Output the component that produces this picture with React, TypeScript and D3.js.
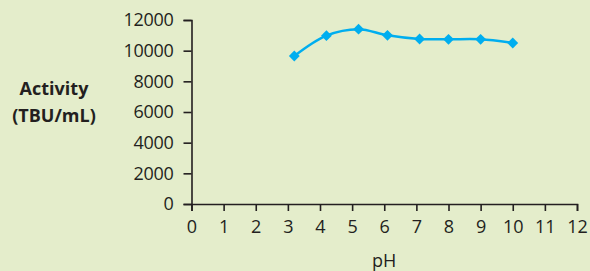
import React, { useEffect, useRef } from "react";
import * as d3 from "d3";

// pH vs activity readings
const phValues = [3.2, 4.2, 5.2, 6.1, 7.1, 8.0, 9.0, 10.0];
const activityValues = [9650, 10980, 11400, 11000, 10760, 10740, 10740, 10500];
const xTicks = [0, 1, 2, 3, 4, 5, 6, 7, 8, 9, 10, 11, 12];
const yTicks = [0, 2000, 4000, 6000, 8000, 10000, 12000];

export default function App() {
  const ref = useRef<SVGSVGElement | null>(null);

  useEffect(() => {
    const width = 590;
    const height = 271;
    const svg = d3.select(ref.current);
    svg.selectAll("*").remove();

    svg
      .append("rect")
      .attr("width", width)
      .attr("height", height)
      .attr("fill", "#e4edcb");

    const x = d3.scaleLinear().domain([0, 12]).range([191.5, 577]);
    const y = d3.scaleLinear().domain([0, 12000]).range([204, 20]);

    const font = "'Open Sans', 'Noto Sans', sans-serif";
    const ink = "#231f20";

    // y axis
    const yAxis = svg
      .append("g")
      .attr("transform", `translate(${x(0)},0)`)
      .call(d3.axisLeft(y).tickValues(yTicks).tickSize(8).tickPadding(10).tickFormat(d3.format("d")));
    yAxis.select(".domain").attr("stroke", ink).attr("stroke-width", 1.6);
    yAxis.selectAll(".tick line").attr("stroke", ink).attr("stroke-width", 1.6);
    yAxis
      .selectAll(".tick text")
      .attr("fill", ink)
      .attr("font-family", font)
      .attr("font-size", 18)
      .attr("letter-spacing", -0.3);

    // x axis
    const xAxis = svg
      .append("g")
      .attr("transform", `translate(0,${y(0)})`)
      .call(d3.axisBottom(x).tickValues(xTicks).tickSize(7).tickPadding(9.5).tickFormat(d3.format("d")));
    xAxis.select(".domain").attr("stroke", ink).attr("stroke-width", 1.6);
    xAxis.selectAll(".tick line").attr("stroke", ink).attr("stroke-width", 1.6);
    xAxis
      .selectAll(".tick text")
      .attr("fill", ink)
      .attr("font-family", font)
      .attr("font-size", 18);

    // axis titles
    const yTitle = svg
      .append("text")
      .attr("text-anchor", "middle")
      .attr("font-family", font)
      .attr("font-weight", "bold")
      .attr("font-size", 18)
      .attr("fill", ink);
    yTitle.append("tspan").attr("x", 54).attr("y", 95).text("Activity");
    yTitle.append("tspan").attr("x", 54).attr("y", 122).text("(TBU/mL)");

    svg
      .append("text")
      .attr("x", (x(0) + x(12)) / 2)
      .attr("y", 267)
      .attr("text-anchor", "middle")
      .attr("font-family", font)
      .attr("font-size", 18)
      .attr("fill", ink)
      .text("pH");

    const data = phValues.map((p, i) => ({ p, a: activityValues[i] }));
    const line = d3
      .line<{ p: number; a: number }>()
      .x((d) => x(d.p))
      .y((d) => y(d.a))
      .curve(d3.curveCatmullRom.alpha(0.5));

    svg
      .append("path")
      .datum(data)
      .attr("d", line)
      .attr("fill", "none")
      .attr("stroke", "#00aeef")
      .attr("stroke-width", 2.5);

    const diamond = d3.symbol().type(d3.symbolDiamond2).size(75);
    svg
      .selectAll("path.marker")
      .data(data)
      .join("path")
      .attr("class", "marker")
      .attr("transform", (d) => `translate(${x(d.p)},${y(d.a)})`)
      .attr("d", diamond)
      .attr("fill", "#00aeef");
  }, []);

  return (
    <svg
      ref={ref}
      width={590}
      height={271}
      style={{ position: "absolute", left: 0, top: 0, display: "block" }}
    />
  );
}
